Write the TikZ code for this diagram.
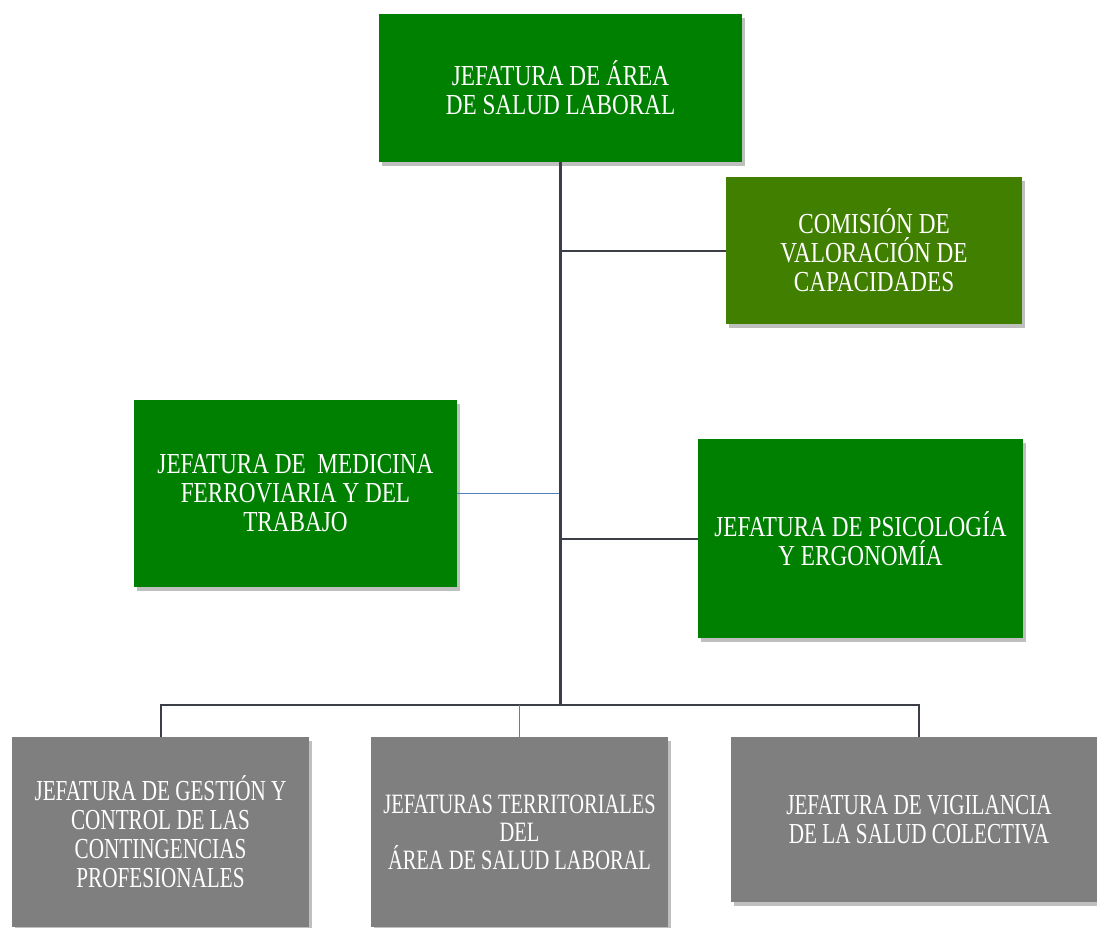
\documentclass[tikz,border=0pt]{standalone}
\usepackage{fontspec}
\setmainfont{Liberation Serif}[FakeStretch=0.8]
\newfontfamily\narrowfont{Liberation Serif}[FakeStretch=0.73]
\usetikzlibrary{shadows}
\definecolor{gA}{HTML}{008000}
\definecolor{gB}{HTML}{407F00}
\definecolor{gr}{HTML}{7F7F7F}
\definecolor{ln}{HTML}{3C3F45}
\definecolor{bl}{HTML}{4F81BD}
\tikzset{
  box/.style={rectangle, inner sep=0pt, align=center, text=white,
    font=\fontsize{29}{29}\selectfont,
    drop shadow={shadow xshift=3pt, shadow yshift=-4pt, fill=black, opacity=0.25}},
  lowbox/.style={box, fill=gr, font=\narrowfont\fontsize{29}{29}\selectfont},
  link/.style={draw=ln, line width=2pt},
  blink/.style={draw=bl, line width=1.6pt}
}
\begin{document}
\begin{tikzpicture}[x=1pt, y=-1pt]
\useasboundingbox (0,0) rectangle (1097,927);
\node[box, fill=gA, minimum width=363pt, minimum height=148pt] (top) at (560.5,88) {JEFATURA DE ÁREA\\DE SALUD LABORAL};
\node[box, fill=gB, minimum width=296pt, minimum height=147pt] (com) at (874,250.5) {COMISIÓN DE\\VALORACIÓN DE\\CAPACIDADES};
\node[box, fill=gA, minimum width=323pt, minimum height=187pt] (med) at (295.5,493.5) {JEFATURA DE \ MEDICINA\\FERROVIARIA Y DEL\\TRABAJO};
\node[box, fill=gA, minimum width=325pt, minimum height=199pt] (psi) at (860.5,538.5) {JEFATURA DE PSICOLOGÍA\\Y ERGONOMÍA};
\node[lowbox, minimum width=297pt, minimum height=190pt] (ges) at (160.5,832) {JEFATURA DE GESTIÓN Y\\CONTROL DE LAS\\CONTINGENCIAS\\PROFESIONALES};
\node[lowbox, minimum width=297pt, minimum height=190pt, font=\narrowfont\fontsize{28}{28}\selectfont] (ter) at (519.5,832) {JEFATURAS TERRITORIALES\\DEL\\ÁREA DE SALUD LABORAL};
\node[lowbox, minimum width=376pt, minimum height=165pt] (vig) at (919,819.5) {JEFATURA DE VIGILANCIA\\DE LA SALUD COLECTIVA};
\coordinate (j) at (560.5,705);
\draw[link] (com.west) -- (com.west -| top.south);
\draw[blink] (med.east) -- (med.east -| top.south);
\draw[link] (psi.west) -- (psi.west -| top.south);
\draw[link] (ges.north) -- (ges.north |- j) -- (vig.north |- j) -- (vig.north);
\draw[blink] (ter.north) -- (ter.north |- j);
\draw[link, line width=2.5pt] (top.south) -- (j);
\end{tikzpicture}
\end{document}
